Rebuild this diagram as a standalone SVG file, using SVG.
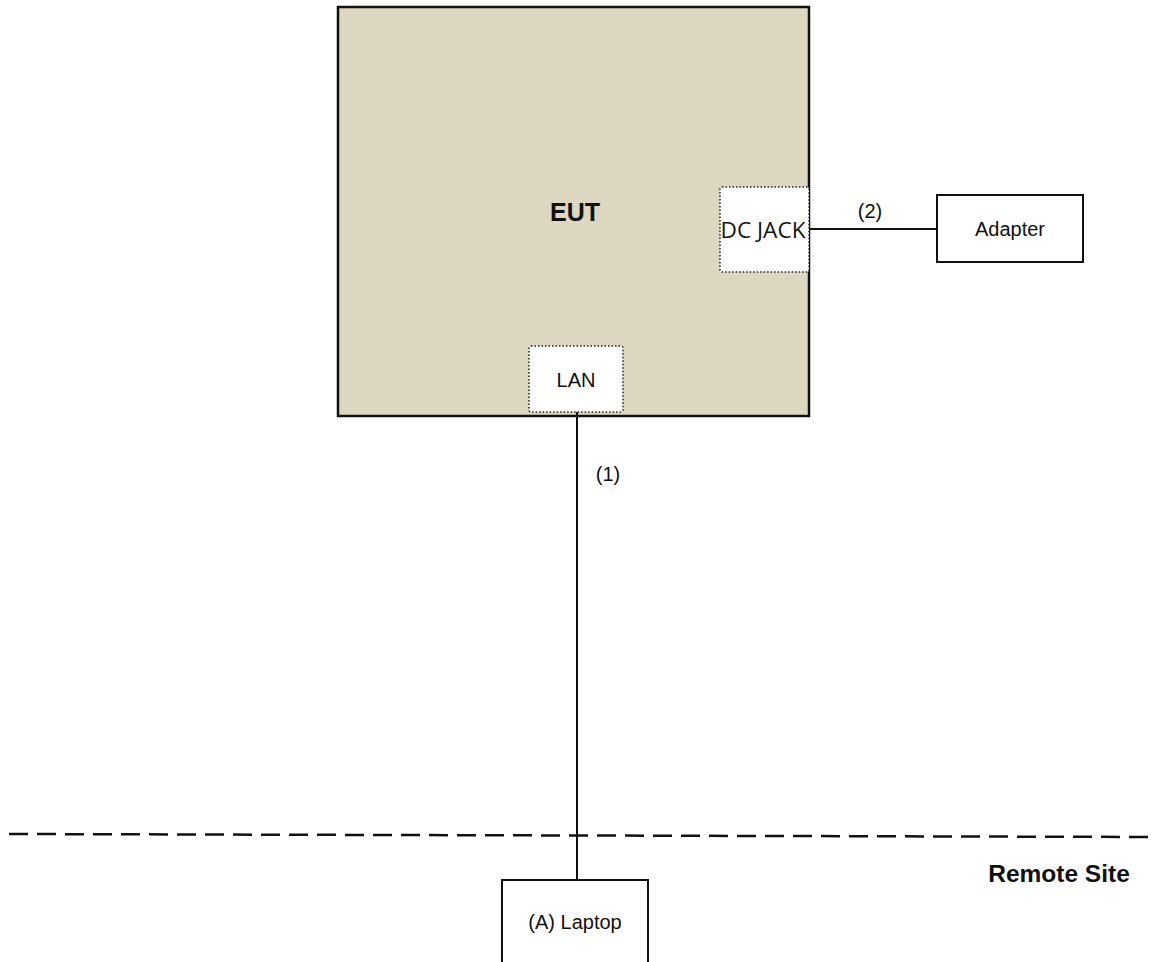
<svg xmlns="http://www.w3.org/2000/svg" width="1156" height="962" viewBox="0 0 1156 962">
<style>
.t{font-family:"Liberation Sans",Arial,sans-serif;fill:#111}
.box{fill:#fff;stroke:#111;stroke-width:2}
.port{fill:#fff;stroke:#222;stroke-width:1.5;stroke-dasharray:1.5 2}
.ln{stroke:#111;stroke-width:2;fill:none}
</style>
<rect width="1156" height="962" fill="#fff"/>
<g id="eut">
<rect x="338" y="7" width="471" height="409" fill="#DDD7C2" stroke="#111" stroke-width="2.5"/>
<text class="t" x="575" y="221" font-size="25" font-weight="bold" text-anchor="middle">EUT</text>
</g>
<g id="dcjack">
<rect class="port" x="720" y="187" width="89" height="85" rx="2"/>
<text x="763" y="238" font-size="22" text-anchor="middle" font-family="'Open Sans','Liberation Sans',sans-serif" fill="#111" textLength="85" lengthAdjust="spacingAndGlyphs">DC JACK</text>
</g>
<g id="lan">
<rect class="port" x="529" y="346" width="94" height="66" rx="2"/>
<text class="t" x="576" y="387" font-size="20" text-anchor="middle">LAN</text>
</g>
<g id="adapter">
<rect class="box" x="937" y="195" width="146" height="67"/>
<text class="t" x="1010" y="236" font-size="20" text-anchor="middle">Adapter</text>
</g>
<g id="laptop">
<rect class="box" x="502" y="880" width="146" height="100"/>
<text class="t" x="575" y="929" font-size="20" text-anchor="middle">(A) Laptop</text>
</g>
<g id="connectors">
<line class="ln" x1="809" y1="229" x2="937" y2="229"/>
<line class="ln" x1="577" y1="412" x2="577" y2="880"/>
<line x1="9" y1="834" x2="1156" y2="837" stroke="#111" stroke-width="2.5" stroke-dasharray="19 9"/>
<text class="t" x="870" y="218" font-size="20" text-anchor="middle">(2)</text>
<text class="t" x="608" y="481" font-size="20" text-anchor="middle">(1)</text>
</g>
<g id="remote">
<text class="t" x="1059" y="882" font-size="24.5" font-weight="bold" text-anchor="middle">Remote Site</text>
</g>
</svg>
